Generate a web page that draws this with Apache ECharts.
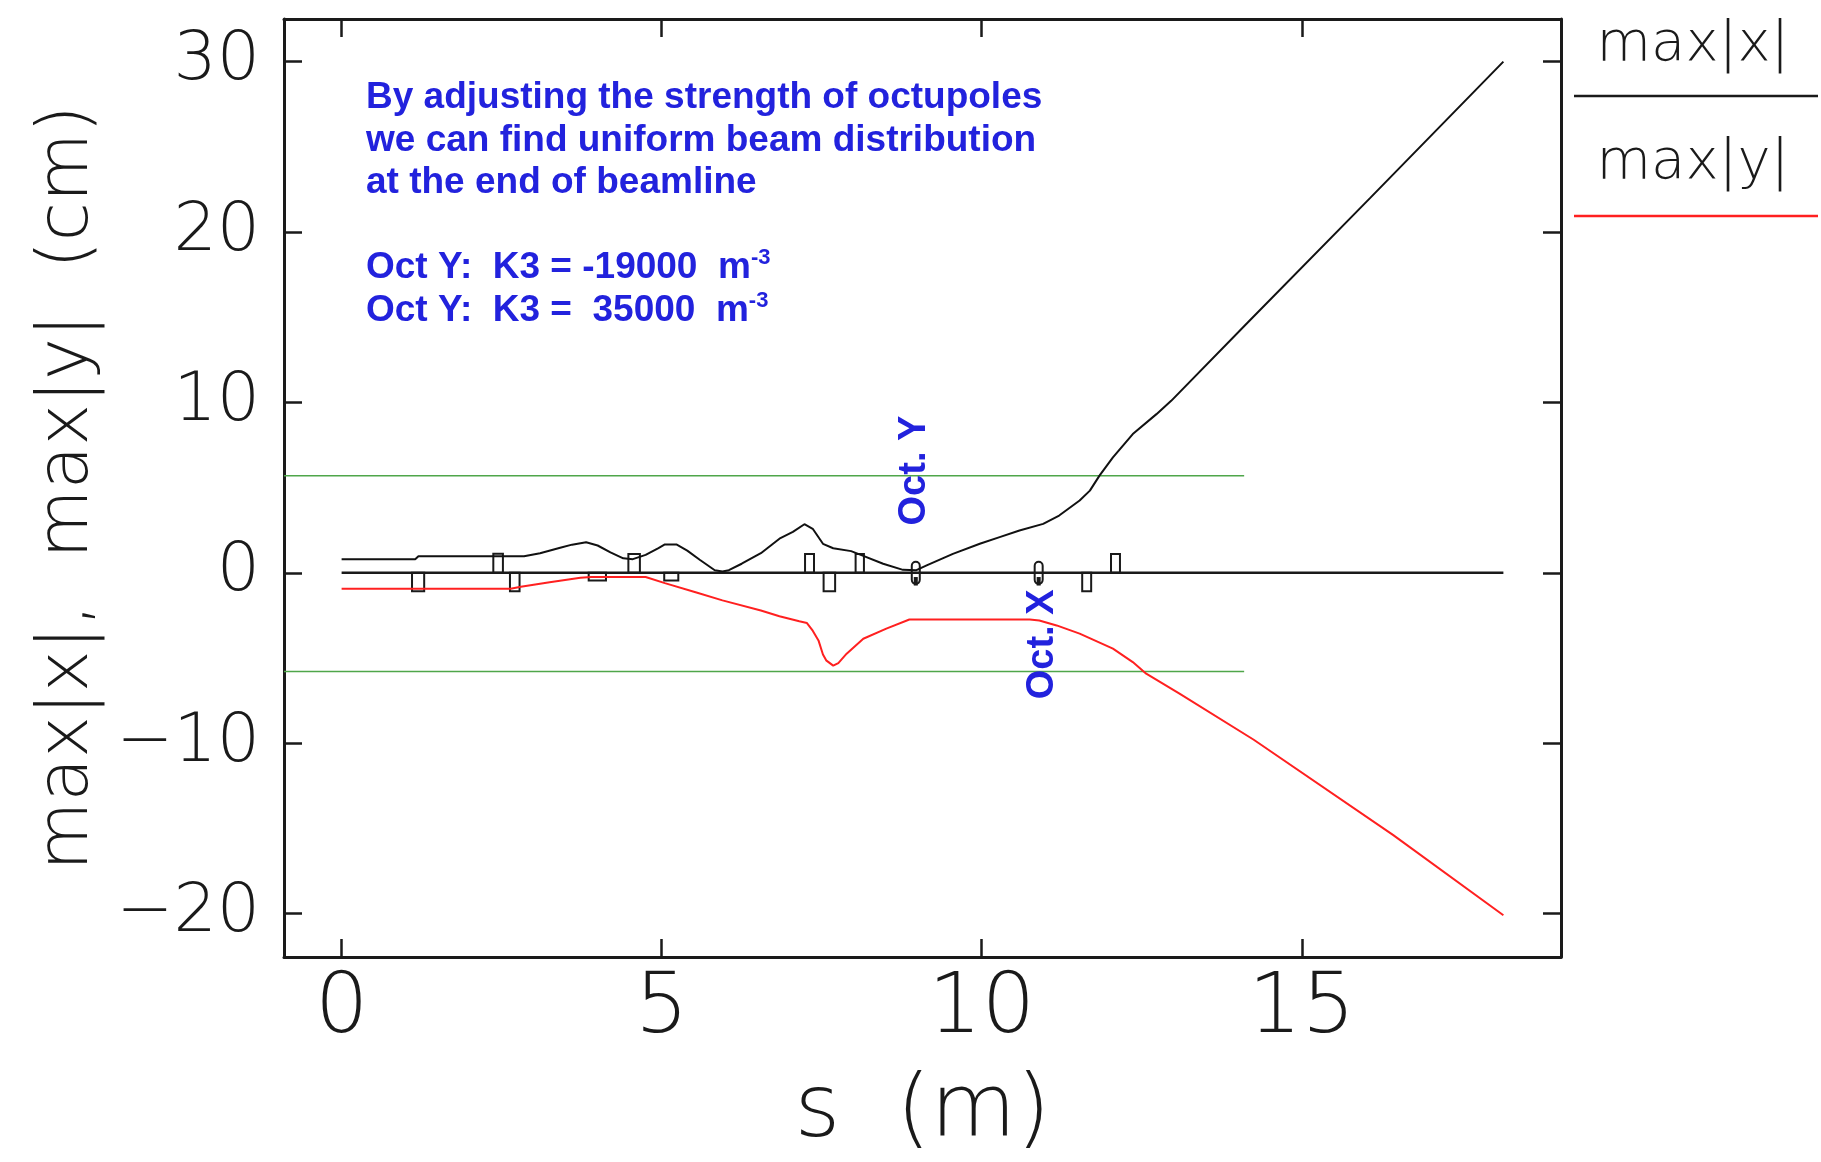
<!DOCTYPE html>
<html>
<head>
<meta charset="utf-8">
<title>Beam envelope along the beamline</title>
<script src="https://cdn.jsdelivr.net/npm/echarts@6/dist/echarts.min.js"></script>
<style>
  html, body { margin: 0; padding: 0; background: #ffffff; }
  #chart { width: 1821px; height: 1162px; }
</style>
</head>
<body>
<div id="chart"></div>
<script>
// Horizontal envelope max|x| (cm) versus s (m)
const sX   = [0, 1.15, 1.2, 2.85, 3.1, 3.4, 3.6, 3.82, 4.0, 4.2, 4.4, 4.55, 4.75, 4.95, 5.05, 5.23, 5.4, 5.6, 5.83, 5.95, 6.05, 6.25, 6.55, 6.84, 7.05, 7.23, 7.36, 7.52, 7.68, 7.96, 8.14, 8.46, 8.77, 8.98, 9.14, 9.55, 9.97, 10.28, 10.59, 10.96, 11.21, 11.53, 11.69, 11.84, 12.05, 12.36, 12.73, 12.96, 14.16, 16.07, 18.15];
const maxX = [0.80, 0.80, 0.97, 0.97, 1.15, 1.45, 1.65, 1.79, 1.6, 1.2, 0.85, 0.80, 1.05, 1.45, 1.66, 1.66, 1.3, 0.75, 0.15, 0.08, 0.15, 0.53, 1.15, 2.0, 2.4, 2.85, 2.58, 1.70, 1.44, 1.27, 1.01, 0.53, 0.17, 0.15, 0.43, 1.11, 1.70, 2.09, 2.48, 2.87, 3.36, 4.24, 4.82, 5.70, 6.77, 8.14, 9.31, 10.09, 14.7, 22.0, 30.0];

// Vertical envelope max|y| (cm), drawn below the axis (negative side)
const sY   = [0, 2.64, 2.8, 3.25, 3.73, 3.9, 4.75, 5.05, 5.53, 5.95, 6.55, 6.84, 7.15, 7.27, 7.36, 7.45, 7.52, 7.57, 7.68, 7.76, 7.89, 8.15, 8.51, 8.87, 10.75, 10.9, 11.17, 11.53, 12.05, 12.36, 12.57, 13.09, 14.25, 16.43, 18.15];
const maxY = [-0.94, -0.94, -0.82, -0.55, -0.29, -0.25, -0.25, -0.61, -1.14, -1.62, -2.21, -2.55, -2.85, -2.95, -3.4, -3.97, -4.8, -5.14, -5.45, -5.3, -4.75, -3.87, -3.28, -2.74, -2.74, -2.8, -3.09, -3.57, -4.45, -5.24, -5.92, -7.09, -9.8, -15.4, -20.1];

// Lattice: quadrupole boxes (start, end, signed height)
const quadStart = [1.10, 2.37, 2.63, 3.86, 4.48, 5.04, 7.24, 7.53, 8.03, 11.57, 12.02];
const quadEnd   = [1.29, 2.52, 2.78, 4.13, 4.66, 5.26, 7.38, 7.71, 8.16, 11.71, 12.16];
const quadK     = [-1.08, 1.12, -1.08, -0.45, 1.10, -0.45, 1.10, -1.08, 1.10, -1.08, 1.10];

// Octupole positions and their tags
const octS      = [8.97, 10.89];
const octTagS   = [8.95, 10.95];
const octTagY   = [6.0, -4.2];
const octTagTxt = ['Oct. Y', 'Oct. X'];

// Aperture levels (cm) and their extent in s
const apertureLevels = [5.7, -5.8];
const apertureFrom = -0.9;
const apertureTo   = 14.1;

// Beamline reference axis
const lineStart = 0;
const lineEnd   = 18.15;

// Axis ranges and ticks
const xMin = -0.9, xMax = 19.05;
const yMin = -22.55, yMax = 32.5;
const xTicks = [0, 5, 10, 15];
const yTicks = [-20, -10, 0, 10, 20, 30];

const thinFont = 'DejaVu Sans';
const blue = '#2222dd';
const ink = '#1a1a1a';

function pairs(xs, ys) { return xs.map((x, i) => [x, ys[i]]); }

const chart = echarts.init(document.getElementById('chart'), null, { renderer: 'canvas' });

const frameLine = { show: true, onZero: false, lineStyle: { color: ink, width: 3 } };
const tickStyle = { lineStyle: { color: ink, width: 2.5 } };

const option = {
  backgroundColor: '#ffffff',
  animation: false,
  grid: { left: 284, top: 19, right: 260, bottom: 205, containLabel: false },
  xAxis: [
    {
      type: 'value', min: xMin, max: xMax, position: 'bottom',
      axisLine: frameLine,
      axisTick: Object.assign({ show: true, inside: true, length: 18, customValues: xTicks }, tickStyle),
      axisLabel: {
        show: true, customValues: xTicks, margin: 11,
        fontFamily: thinFont, fontWeight: 200, fontSize: 84, color: ink
      },
      splitLine: { show: false },
      name: 's  (m)', nameLocation: 'middle', nameGap: 112,
      nameTextStyle: { fontFamily: thinFont, fontWeight: 200, fontSize: 88, color: ink }
    },
    {
      type: 'value', min: xMin, max: xMax, position: 'top',
      axisLine: frameLine,
      axisTick: Object.assign({ show: true, inside: true, length: 18, customValues: xTicks }, tickStyle),
      axisLabel: { show: false },
      splitLine: { show: false }
    }
  ],
  yAxis: [
    {
      type: 'value', min: yMin, max: yMax, position: 'left',
      axisLine: frameLine,
      axisTick: Object.assign({ show: true, inside: true, length: 18, customValues: yTicks }, tickStyle),
      axisLabel: {
        show: true, customValues: yTicks, margin: 24,
        fontFamily: thinFont, fontWeight: 200, fontSize: 68, color: ink,
        formatter: v => (v < 0 ? '\u2212' + Math.abs(v) : String(v))
      },
      splitLine: { show: false },
      name: 'max|x|,  max|y|  (cm)', nameLocation: 'middle', nameGap: 180,
      nameTextStyle: { fontFamily: thinFont, fontWeight: 200, fontSize: 71, color: ink }
    },
    {
      type: 'value', min: yMin, max: yMax, position: 'right',
      axisLine: frameLine,
      axisTick: Object.assign({ show: true, inside: true, length: 18, customValues: yTicks }, tickStyle),
      axisLabel: { show: false },
      splitLine: { show: false }
    }
  ],
  series: [
    // aperture limits
    ...apertureLevels.map(level => ({
      type: 'line', xAxisIndex: 0, yAxisIndex: 0, z: 1,
      data: [[apertureFrom, level], [apertureTo, level]],
      symbol: 'none', silent: true,
      lineStyle: { color: '#4fa64a', width: 1.5 }
    })),
    // reference axis of the beamline
    {
      type: 'line', xAxisIndex: 0, yAxisIndex: 0, z: 2,
      data: [[lineStart, 0], [lineEnd, 0]],
      symbol: 'none', silent: true,
      lineStyle: { color: ink, width: 2.5 }
    },
    // quadrupoles
    {
      type: 'custom', xAxisIndex: 0, yAxisIndex: 0, z: 3,
      data: quadStart.map((s, i) => [s, quadEnd[i], quadK[i]]),
      renderItem: (params, api) => {
        const p0 = api.coord([api.value(0), 0]);
        const p1 = api.coord([api.value(1), api.value(2)]);
        return {
          type: 'rect',
          shape: { x: p0[0], y: Math.min(p0[1], p1[1]), width: p1[0] - p0[0], height: Math.abs(p1[1] - p0[1]) },
          style: { fill: 'none', stroke: ink, lineWidth: 2 }
        };
      }
    },
    // octupoles
    {
      type: 'custom', xAxisIndex: 0, yAxisIndex: 0, z: 3,
      data: octS.map(s => [s]),
      renderItem: (params, api) => {
        const s = api.value(0);
        const top = api.coord([s, 0.65]);
        const bot = api.coord([s, -0.65]);
        const low = api.coord([s, -0.75]);
        const mid = api.coord([s, -0.25]);
        const w = 8;
        return {
          type: 'group',
          children: [
            {
              type: 'rect',
              shape: { x: top[0] - w / 2, y: top[1], width: w, height: bot[1] - top[1], r: w / 2 },
              style: { fill: 'none', stroke: ink, lineWidth: 2 }
            },
            {
              type: 'line',
              shape: { x1: mid[0], y1: mid[1], x2: low[0], y2: low[1] },
              style: { stroke: ink, lineWidth: 4 }
            }
          ]
        };
      }
    },
    // max|x|
    {
      type: 'line', name: 'max|x|', xAxisIndex: 0, yAxisIndex: 0, z: 4,
      data: pairs(sX, maxX), symbol: 'none',
      lineStyle: { color: '#111111', width: 2 }
    },
    // max|y|
    {
      type: 'line', name: 'max|y|', xAxisIndex: 0, yAxisIndex: 0, z: 4,
      data: pairs(sY, maxY), symbol: 'none',
      lineStyle: { color: '#ff2020', width: 2 }
    },
    // octupole tags
    {
      type: 'scatter', xAxisIndex: 0, yAxisIndex: 0, z: 5,
      data: octTagS.map((s, i) => ({ value: [s, octTagY[i]], name: octTagTxt[i] })),
      symbolSize: 0, silent: true,
      itemStyle: { opacity: 1 },
      label: {
        show: true, position: 'inside', rotate: 90,
        formatter: p => p.name,
        fontFamily: 'Liberation Sans', fontWeight: 'bold', fontSize: 38, color: blue, opacity: 1
      }
    }
  ],
  graphic: [
    {
      type: 'text', left: 366, top: 77, z: 10,
      style: {
        text: 'By adjusting the strength of octupoles\nwe can find uniform beam distribution\nat the end of beamline',
        font: 'bold 37px "Liberation Sans"', fill: blue, lineHeight: 42.5
      }
    },
    {
      type: 'text', left: 366, top: 247, z: 10,
      style: {
        text: 'Oct Y:  K3 = -19000  m{sup|-3}\nOct Y:  K3 =  35000  m{sup|-3}',
        font: 'bold 37px "Liberation Sans"', fill: blue, lineHeight: 42.5,
        rich: {
          sup: { fontFamily: 'Liberation Sans', fontWeight: 'bold', fontSize: 22, fill: blue, color: blue, verticalAlign: 'top', lineHeight: 42.5, padding: [0, 0, 16, 0] }
        }
      }
    },
    // legend
    {
      type: 'text', x: 1693, y: 45, z: 10,
      style: { text: 'max|x|', fill: ink, font: '200 56px "DejaVu Sans"', align: 'center', verticalAlign: 'middle' }
    },
    {
      type: 'line', z: 10,
      shape: { x1: 1574, y1: 96, x2: 1818, y2: 96 },
      style: { stroke: ink, lineWidth: 2.5 }
    },
    {
      type: 'text', x: 1693, y: 163, z: 10,
      style: { text: 'max|y|', fill: ink, font: '200 56px "DejaVu Sans"', align: 'center', verticalAlign: 'middle' }
    },
    {
      type: 'line', z: 10,
      shape: { x1: 1574, y1: 216, x2: 1818, y2: 216 },
      style: { stroke: '#ff2020', lineWidth: 2.5 }
    }
  ]
};

chart.setOption(option);
</script>
</body>
</html>
